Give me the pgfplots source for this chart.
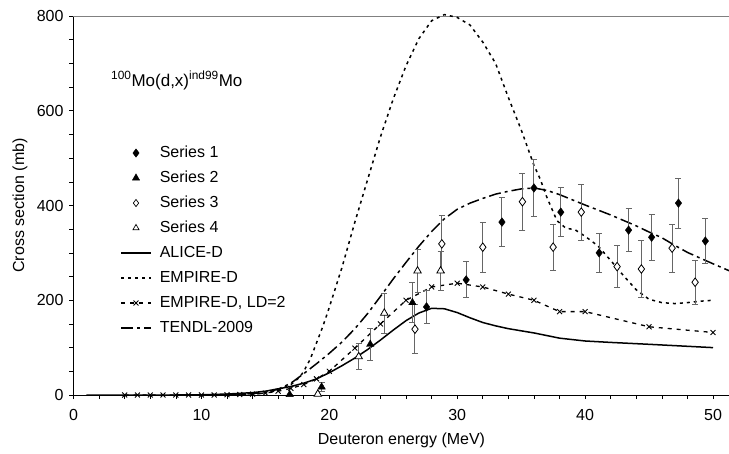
\documentclass[border=0pt]{standalone}
\usepackage{pgfplots}
\pgfplotsset{compat=1.18}
\usepackage{pgfplotstable}
\usepackage{fontspec}
\setmainfont{Liberation Sans}
\newcommand{\fs}{\fontsize{16bp}{19bp}\selectfont}

\pgfplotstableread{
x y e
27.6 186 35
30.7 243 38
33.5 365 52
36.0 437 61
38.1 386 52
41.1 300 42
43.4 348 45
45.2 333 49
47.3 405 53
49.4 325 47
}\sA
\pgfplotstableread{
x y e
16.9 1 0
19.4 17 10
23.2 107 33
26.5 195 42
}\sB
\pgfplotstableread{
x y e
26.7 139 52
28.8 319 60
32.0 312 53
35.1 408 60
37.5 312 49
39.7 386 59
42.5 271 44
44.4 266 61
46.8 310 51
48.6 238 46
}\sC
\pgfplotstableread{
x y e
19.1 2 0
22.3 81 28
24.3 173 42
26.9 262 45
28.7 262 42
}\sD
\pgfplotstableread{
x y
1 0
8 0
10 0.5
12 2
14 5
15 8
16 13
17 18
18 25
19 34
20 47
21 62
22 78
23 96
24 116
25 137
26 157
27 173
28 183
29 182
30 174
31 163
32 153
33 146
34 140
36 131
38 120
40 114
42 111
45 107
50 100
}\alice
\pgfplotstableread{
x y
10 0
13 0.5
14 1.5
15 4
16 10
17 22
17.7 38
18 50
18.5 75
19 110
19.5 145
20 185
21 270
22 365
23 455
24 545
25 625
26 695
27 752
28 790
29 803
30 797
31 781
32 745
33 700
34 628
35 560
36 485
36.5 455
37 418
37.8 368
38.5 352
39.2 349
40 335
41 315
42 284
43 252
44 222
45 202
46 195
47 193
48 195
49 198
50 200
}\empire
\pgfplotstableread{
x y
4 0
5 0
6 0
7 0
8 0
9 0
10 0
11 0
12 0.5
13 1
14 2
15 4
16 8
17 14
18 22
19 34
20 50
22 99
24 150
26 200
28 228
30 236
32 228
34 213
36 200
38 176
40 176
45 144
50 132
}\empireld
\pgfplotstableread{
x y
10 0
13 1
14 3
15 6
16 12
17 25
18 45
19 66
20 88
21 112
22 140
23 172
24 208
25 245
26 280
27 314
28 345
29 372
30 392
31 405
32 415
33 424
34 430
35 435
36 437
37 432
38 423
39 412
40 401
42 380
44 357
45 344
46 332
47 316
48 301
49 289
50 277
51.29 262
}\tendl

\begin{document}
\begin{tikzpicture}
\useasboundingbox (-73.5bp,-59bp) rectangle (655.5bp,395bp);
\begin{axis}[
  scale only axis, width=656bp, height=379bp,
  at={(0,0)}, anchor=origin,
  xmin=0, xmax=51.29, ymin=0, ymax=800,
  axis x line*=bottom, axis y line*=left,
  axis line style={-, black, line width=0.8bp},
  xtick={0,10,...,50}, ytick={0,200,...,800},
  minor x tick num=4, minor y tick num=3,
  tick align=outside, major tick length=4bp, minor tick length=4bp,
  tick style={black, line width=0.6bp},
  /pgf/number format/assume math mode=true,
  ticklabel style={font=\fs},
  xticklabel style={yshift=-6.5bp},
  yticklabel style={xshift=-2.5bp},
  xlabel={Deuteron energy (MeV)}, ylabel={Cross section (mb)},
  label style={font=\fs},
  xlabel style={at={(axis description cs:0.5,-0.1187)}, anchor=center},
  ylabel style={at={(axis description cs:-0.0816,0.5)}, anchor=center},
  clip=false,
  legend cell align=left,
  legend style={at={(axis cs:3.64,527)}, anchor=north west, draw=none, fill=none,
    inner sep=0pt, font=\fs, row sep=10bp, column sep=8bp,
    nodes={inner sep=0pt, text height=11.5bp, text depth=3.5bp}},
  legend image code/.code={\draw[mark repeat=2,mark phase=2,#1] plot coordinates {(0bp,0bp)(15bp,0bp)(30bp,0bp)};},
  errstyle/.style={error bars/.cd, y dir=both, y explicit,
    error bar style={black!60, line width=1bp},
    error mark options={rotate=90, mark size=3bp, black!60, line width=0.8bp}},
]
\addlegendimage{only marks, mark=diamond*, black, mark size=4.2bp}
\addlegendentry{Series 1}
\addlegendimage{only marks, mark=triangle*, black, mark size=4.2bp}
\addlegendentry{Series 2}
\addlegendimage{only marks, mark=diamond*, black, mark options={fill=white, line width=0.7bp}, mark size=3.6bp}
\addlegendentry{Series 3}
\addlegendimage{only marks, mark=triangle*, black, mark options={fill=white, line width=0.7bp}, mark size=3.6bp}
\addlegendentry{Series 4}
\addlegendimage{black, line width=1.5bp}
\addlegendentry{ALICE-D}
\addlegendimage{black, line width=1.5bp, dash pattern=on 3bp off 4bp}
\addlegendentry{EMPIRE-D}
\addlegendimage{black, line width=1.3bp, dash pattern=on 4bp off 5bp, mark=x, mark size=3.5bp, mark options={solid, line width=0.9bp}}
\addlegendentry{EMPIRE-D, LD=2}
\addlegendimage{black, line width=1.5bp, dash pattern=on 12bp off 4bp on 3bp off 4bp}
\addlegendentry{TENDL-2009}

\draw[gray, line width=0.8bp] (rel axis cs:0,1) -- (rel axis cs:1,1);

\addplot[forget plot, black, line width=1.5bp] table[x=x,y=y] {\alice};
\addplot[forget plot, black, line width=1.5bp, dash pattern=on 3bp off 4bp] table[x=x,y=y] {\empire};
\addplot[forget plot, black, line width=1.3bp, dash pattern=on 4bp off 5bp, mark=x, mark size=3.5bp, mark options={solid, line width=0.9bp}] table[x=x,y=y] {\empireld};
\addplot[forget plot, black, line width=1.5bp, dash pattern=on 12bp off 4bp on 3bp off 4bp] table[x=x,y=y] {\tendl};

\addplot[forget plot, only marks, mark=diamond*, black, mark size=4.3bp, mark options={fill=white, line width=0.8bp}, errstyle] table[x=x,y=y,y error=e] {\sC};
\addplot[forget plot, only marks, mark=triangle*, black, mark size=4.3bp, mark options={fill=white, line width=0.8bp}, errstyle] table[x=x,y=y,y error=e] {\sD};
\addplot[forget plot, only marks, mark=diamond*, black, mark size=4.3bp, errstyle] table[x=x,y=y,y error=e] {\sA};
\addplot[forget plot, only marks, mark=triangle*, black, mark size=4.3bp, errstyle] table[x=x,y=y,y error=e] {\sB};

\node[anchor=base west, inner sep=0pt, font=\fontsize{17bp}{20bp}\selectfont] at (axis cs:2.93,652) {\textsuperscript{100}Mo(d,x)\textsuperscript{ind99}Mo};
\end{axis}
\end{tikzpicture}
\end{document}
